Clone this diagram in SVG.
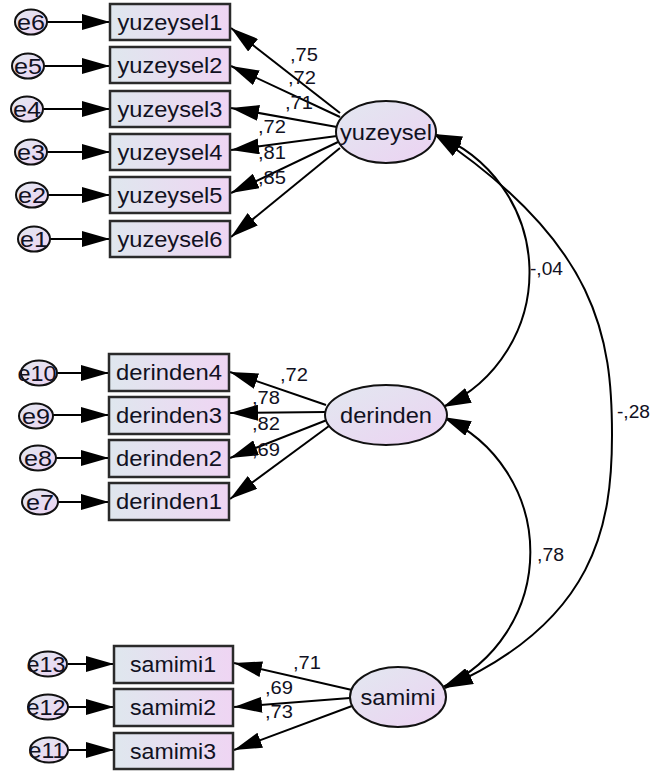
<svg xmlns="http://www.w3.org/2000/svg" width="651" height="773" viewBox="0 0 651 773">
<style>
.box{fill:url(#gb);stroke:#2a2a2a;stroke-width:2.5}
.lat{fill:url(#ge);stroke:#111;stroke-width:2}
.err{fill:url(#ge);stroke:#111;stroke-width:2}
.t{font-family:"Liberation Sans",Arial,sans-serif;font-size:22px;fill:#111122;text-anchor:middle}
.lb{font-family:"Liberation Sans",Arial,sans-serif;font-size:18px;fill:#111122}
.c{fill:none;stroke:#000;stroke-width:2;marker-end:url(#ah)}
.cv{fill:none;stroke:#000;stroke-width:2;marker-start:url(#ah);marker-end:url(#ah)}
</style>
<defs>
<linearGradient id="gb" x1="0" y1="0" x2="1" y2="0">
<stop offset="0" stop-color="#dfe7ee"/><stop offset="1" stop-color="#efd5f3"/>
</linearGradient>
<linearGradient id="ge" x1="0" y1="0" x2="1" y2="1">
<stop offset="0" stop-color="#e2e8f0"/><stop offset="1" stop-color="#ecd2f2"/>
</linearGradient>
<marker id="ah" viewBox="0 0 28 16" refX="28" refY="8" markerWidth="28" markerHeight="16" markerUnits="userSpaceOnUse" orient="auto-start-reverse">
<path d="M0,0 L28,8 L0,16 z" fill="#000"/>
</marker>
</defs>
<rect width="651" height="773" fill="#fff"/>
<g id="connectors">
<line class="c" x1="47" y1="22" x2="110" y2="22"/>
<line class="c" x1="44" y1="66" x2="110" y2="66"/>
<line class="c" x1="43" y1="109" x2="110" y2="109"/>
<line class="c" x1="47" y1="152" x2="110" y2="152"/>
<line class="c" x1="48" y1="195" x2="110" y2="195"/>
<line class="c" x1="50" y1="239" x2="110" y2="239"/>
<line class="c" x1="57" y1="373" x2="109" y2="373"/>
<line class="c" x1="53" y1="415" x2="109" y2="415"/>
<line class="c" x1="56" y1="458" x2="109" y2="458"/>
<line class="c" x1="58" y1="502" x2="109" y2="502"/>
<line class="c" x1="68" y1="664" x2="114" y2="664"/>
<line class="c" x1="68" y1="707" x2="114" y2="707"/>
<line class="c" x1="68" y1="750" x2="114" y2="750"/>
<line class="c" x1="340" y1="113" x2="231" y2="28"/>
<line class="c" x1="340" y1="117" x2="231" y2="66"/>
<line class="c" x1="337" y1="127" x2="231" y2="108"/>
<line class="c" x1="337" y1="136" x2="231" y2="150"/>
<line class="c" x1="338" y1="142" x2="231" y2="193"/>
<line class="c" x1="340" y1="148" x2="231" y2="237"/>
<line class="c" x1="326" y1="405" x2="230" y2="372"/>
<line class="c" x1="326" y1="412" x2="230" y2="413"/>
<line class="c" x1="327" y1="420" x2="230" y2="458"/>
<line class="c" x1="329" y1="426" x2="230" y2="499"/>
<line class="c" x1="352" y1="690" x2="234" y2="663"/>
<line class="c" x1="350" y1="698" x2="234" y2="707"/>
<line class="c" x1="352" y1="706" x2="234" y2="750"/>
<path class="cv" d="M434,134 A148,148 0 0 1 443,407"/>
<path class="cv" d="M434,134 C599,244 612,339 612,435 C612,524 596,622 445,688"/>
<path class="cv" d="M443,417 A148,148 0 0 1 443,687"/>
<text class="lb" x="290" y="61" textLength="28" lengthAdjust="spacingAndGlyphs">,75</text>
<text class="lb" x="288" y="84" textLength="28" lengthAdjust="spacingAndGlyphs">,72</text>
<text class="lb" x="285" y="109" textLength="28" lengthAdjust="spacingAndGlyphs">,71</text>
<text class="lb" x="258" y="133" textLength="28" lengthAdjust="spacingAndGlyphs">,72</text>
<text class="lb" x="258" y="159" textLength="28" lengthAdjust="spacingAndGlyphs">,81</text>
<text class="lb" x="258" y="184" textLength="28" lengthAdjust="spacingAndGlyphs">,85</text>
<text class="lb" x="280" y="381" textLength="28" lengthAdjust="spacingAndGlyphs">,72</text>
<text class="lb" x="252" y="404" textLength="28" lengthAdjust="spacingAndGlyphs">,78</text>
<text class="lb" x="252" y="430" textLength="28" lengthAdjust="spacingAndGlyphs">,82</text>
<text class="lb" x="252" y="456" textLength="28" lengthAdjust="spacingAndGlyphs">,69</text>
<text class="lb" x="293" y="669" textLength="28" lengthAdjust="spacingAndGlyphs">,71</text>
<text class="lb" x="265" y="694" textLength="28" lengthAdjust="spacingAndGlyphs">,69</text>
<text class="lb" x="265" y="718" textLength="28" lengthAdjust="spacingAndGlyphs">,73</text>
<text class="lb" x="530" y="275" textLength="33" lengthAdjust="spacingAndGlyphs">-,04</text>
<text class="lb" x="617" y="418" textLength="33" lengthAdjust="spacingAndGlyphs">-,28</text>
<text class="lb" x="537" y="561" textLength="27" lengthAdjust="spacingAndGlyphs">,78</text>
</g>
<g id="yuzeysel"><ellipse class="lat" cx="386" cy="132" rx="50" ry="31"/><text class="t" x="386" y="140" textLength="92" lengthAdjust="spacingAndGlyphs">yuzeysel</text></g>
<g id="derinden"><ellipse class="lat" cx="386" cy="415" rx="61" ry="30"/><text class="t" x="386" y="423" textLength="92" lengthAdjust="spacingAndGlyphs">derinden</text></g>
<g id="samimi"><ellipse class="lat" cx="398" cy="697" rx="48" ry="30"/><text class="t" x="398" y="705" textLength="75" lengthAdjust="spacingAndGlyphs">samimi</text></g>
<g id="yuzeysel1"><rect class="box" x="110" y="4" width="120" height="36"/><text class="t" x="170" y="30" textLength="105" lengthAdjust="spacingAndGlyphs">yuzeysel1</text></g>
<g id="yuzeysel2"><rect class="box" x="110" y="47" width="120" height="36"/><text class="t" x="170" y="73" textLength="105" lengthAdjust="spacingAndGlyphs">yuzeysel2</text></g>
<g id="yuzeysel3"><rect class="box" x="110" y="91" width="120" height="36"/><text class="t" x="170" y="117" textLength="105" lengthAdjust="spacingAndGlyphs">yuzeysel3</text></g>
<g id="yuzeysel4"><rect class="box" x="110" y="134" width="120" height="36"/><text class="t" x="170" y="160" textLength="105" lengthAdjust="spacingAndGlyphs">yuzeysel4</text></g>
<g id="yuzeysel5"><rect class="box" x="110" y="177" width="120" height="36"/><text class="t" x="170" y="203" textLength="105" lengthAdjust="spacingAndGlyphs">yuzeysel5</text></g>
<g id="yuzeysel6"><rect class="box" x="110" y="221" width="120" height="36"/><text class="t" x="170" y="247" textLength="105" lengthAdjust="spacingAndGlyphs">yuzeysel6</text></g>
<g id="derinden4"><rect class="box" x="109" y="354" width="120" height="37"/><text class="t" x="169" y="380" textLength="106" lengthAdjust="spacingAndGlyphs">derinden4</text></g>
<g id="derinden3"><rect class="box" x="109" y="397" width="120" height="37"/><text class="t" x="169" y="423" textLength="106" lengthAdjust="spacingAndGlyphs">derinden3</text></g>
<g id="derinden2"><rect class="box" x="109" y="440" width="120" height="37"/><text class="t" x="169" y="466" textLength="106" lengthAdjust="spacingAndGlyphs">derinden2</text></g>
<g id="derinden1"><rect class="box" x="109" y="483" width="120" height="37"/><text class="t" x="169" y="509" textLength="106" lengthAdjust="spacingAndGlyphs">derinden1</text></g>
<g id="samimi1"><rect class="box" x="114" y="646" width="119" height="37"/><text class="t" x="173" y="672" textLength="86" lengthAdjust="spacingAndGlyphs">samimi1</text></g>
<g id="samimi2"><rect class="box" x="114" y="689" width="119" height="37"/><text class="t" x="173" y="715" textLength="86" lengthAdjust="spacingAndGlyphs">samimi2</text></g>
<g id="samimi3"><rect class="box" x="114" y="733" width="119" height="36"/><text class="t" x="173" y="759" textLength="86" lengthAdjust="spacingAndGlyphs">samimi3</text></g>
<g id="e6"><ellipse class="err" cx="31" cy="22" rx="16" ry="12.5"/><text class="t" x="31" y="30" textLength="28" lengthAdjust="spacingAndGlyphs">e6</text></g>
<g id="e5"><ellipse class="err" cx="28" cy="66" rx="16" ry="12.5"/><text class="t" x="28" y="74" textLength="28" lengthAdjust="spacingAndGlyphs">e5</text></g>
<g id="e4"><ellipse class="err" cx="27" cy="109" rx="16" ry="12.5"/><text class="t" x="27" y="117" textLength="28" lengthAdjust="spacingAndGlyphs">e4</text></g>
<g id="e3"><ellipse class="err" cx="31" cy="152" rx="16" ry="12.5"/><text class="t" x="31" y="160" textLength="28" lengthAdjust="spacingAndGlyphs">e3</text></g>
<g id="e2"><ellipse class="err" cx="32" cy="195" rx="16" ry="12.5"/><text class="t" x="32" y="203" textLength="28" lengthAdjust="spacingAndGlyphs">e2</text></g>
<g id="e1"><ellipse class="err" cx="34" cy="239" rx="16" ry="12.5"/><text class="t" x="34" y="247" textLength="28" lengthAdjust="spacingAndGlyphs">e1</text></g>
<g id="e10"><ellipse class="err" cx="39" cy="373" rx="18" ry="12.5"/><text class="t" x="37" y="381" textLength="39" lengthAdjust="spacingAndGlyphs">e10</text></g>
<g id="e9"><ellipse class="err" cx="36" cy="416" rx="17" ry="12.5"/><text class="t" x="36" y="424" textLength="28" lengthAdjust="spacingAndGlyphs">e9</text></g>
<g id="e8"><ellipse class="err" cx="38" cy="458" rx="18" ry="12.5"/><text class="t" x="38" y="466" textLength="28" lengthAdjust="spacingAndGlyphs">e8</text></g>
<g id="e7"><ellipse class="err" cx="40" cy="502" rx="18" ry="12.5"/><text class="t" x="40" y="510" textLength="28" lengthAdjust="spacingAndGlyphs">e7</text></g>
<g id="e13"><ellipse class="err" cx="48" cy="664" rx="19" ry="12.5"/><text class="t" x="46" y="672" textLength="39" lengthAdjust="spacingAndGlyphs">e13</text></g>
<g id="e12"><ellipse class="err" cx="48" cy="707" rx="20" ry="12.5"/><text class="t" x="46" y="715" textLength="39" lengthAdjust="spacingAndGlyphs">e12</text></g>
<g id="e11"><ellipse class="err" cx="49" cy="750" rx="19" ry="12.5"/><text class="t" x="47" y="758" textLength="37" lengthAdjust="spacingAndGlyphs">e11</text></g>
</svg>
